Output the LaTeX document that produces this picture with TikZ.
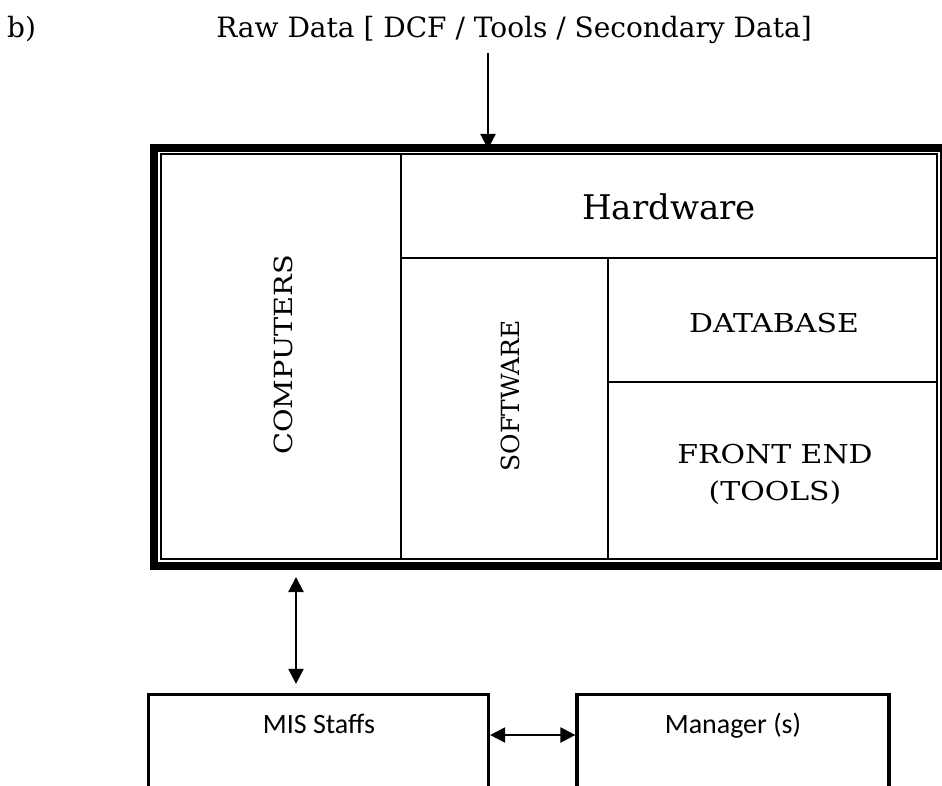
\documentclass[tikz,border=0pt]{standalone}
\usepackage{fontspec}
\setmainfont{DejaVu Serif}
\newfontfamily\widefont[FakeStretch=1.15]{DejaVu Serif}
\newfontfamily\calfont{Carlito}
\usetikzlibrary{arrows.meta}
\begin{document}
\begin{tikzpicture}[x=1pt,y=-1pt,
  framebox/.style={draw, line width=8pt, inner sep=0pt, minimum width=790pt, minimum height=418pt},
  cellbox/.style n args={2}{draw, line width=2pt, inner sep=0pt, outer sep=0pt, minimum width=#1, minimum height=#2},
  peoplebox/.style={draw, line width=3.2pt, inner sep=0pt, minimum height=141pt},
  serifbig/.style={anchor=base, inner sep=0pt, font=\fontsize{34}{40}\selectfont},
  serifwide/.style={anchor=base, inner sep=0pt, font=\widefont\fontsize{26}{30}\selectfont},
  titletext/.style={anchor=base, inner sep=0pt, font=\fontsize{28}{34}\selectfont},
  caltext/.style={anchor=base, inner sep=0pt, font=\calfont\fontsize{28}{34}\selectfont},
  arrowtip/.tip={Triangle[length=15pt,width=15pt]},
  arr/.style={line width=2.2pt, -arrowtip},
  darr/.style={line width=2.2pt, arrowtip-arrowtip}]
\useasboundingbox (0,0) rectangle (942,786);

% title
\node[titletext, anchor=base west] (lab) at (7,38) {b)};
\node[titletext] (raw) at (514,38) {Raw Data [ DCF / Tools / Secondary Data]};

% frame and cells
\node[framebox] (frame) at (549,357) {};
\node[cellbox={240pt}{405pt}] (comp) at (281,356.5) {};
\node[cellbox={536pt}{104pt}] (hw) at (669,206) {};
\node[cellbox={207pt}{301pt}] (sw) at (504.5,408.5) {};
\node[cellbox={329pt}{124pt}] (db) at (772.5,320) {};
\node[cellbox={329pt}{177pt}] (fe) at (772.5,470.5) {};

% cell texts
\node[serifbig] (hwt) at (669,220) {Hardware};
\node[serifwide] (dbt) at (774,332) {DATABASE};
\node[serifwide] (fet1) at (775,463) {FRONT END};
\node[serifwide] (fet2) at (775,500) {(TOOLS)};
\node[serifwide, rotate=90, font=\widefont\fontsize{25}{30}\selectfont] (compt) at (292,355) {COMPUTERS};
\node[anchor=base, inner sep=0pt, rotate=90, font=\fontsize{25}{30}\selectfont] (swt) at (519,396) {SOFTWARE};

% people boxes
\node[peoplebox, minimum width=340pt] (mis) at (318.5,765) {};
\node[peoplebox, minimum width=312pt] (mgr) at (733,765) {};
\node[caltext] (mist) at (319,733) {MIS Staffs};
\node[caltext] (mgrt) at (733,733) {Manager (s)};

% connectors
\coordinate (rawx) at (488,53);
\draw[arr, shorten >=-5pt] (rawx) -- (rawx |- frame.north);
\coordinate (vx) at (296,0);
\draw[darr, shorten <=7pt, shorten >=9pt] (frame.south -| vx) -- (mis.north -| vx);
\coordinate (hy) at (0,735);
\draw[darr] (mis.east |- hy) -- (mgr.west |- hy);
\end{tikzpicture}
\end{document}
